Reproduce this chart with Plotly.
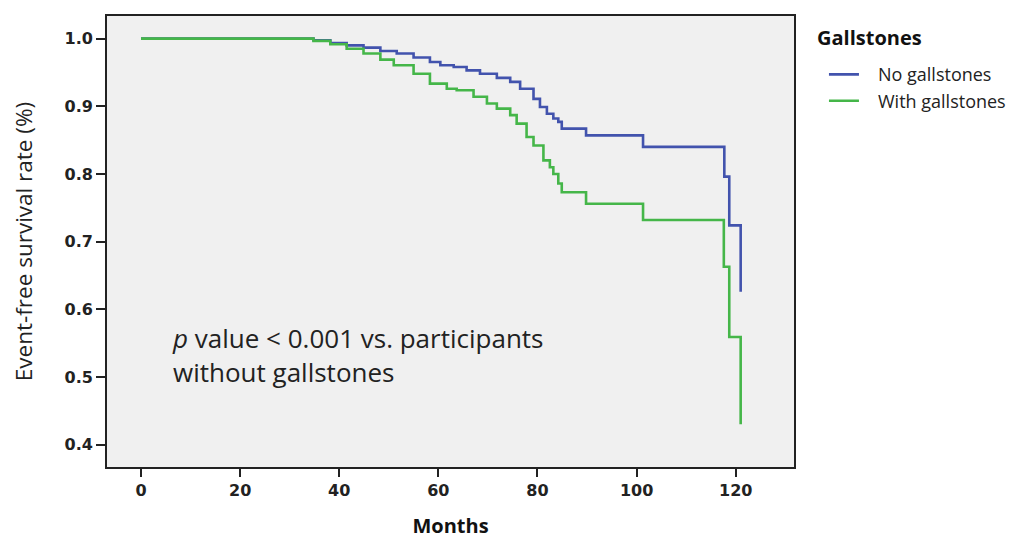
import plotly.graph_objects as go

# Kaplan-Meier step curves (months, survival)
no_gs_months = [0, 32.1, 34.8, 38.2, 41.5, 44.9, 48.3, 51.6, 55.0, 58.3, 60.4, 63.1, 65.7, 68.4,
                71.8, 74.5, 76.5, 79.2, 80.5, 81.9, 83.2, 84.2, 84.9,
                89.8, 101.3, 117.7, 118.7, 121.0]
no_gs_surv = [1.0, 1.0, 0.9975, 0.9935, 0.990, 0.9867, 0.9817, 0.978, 0.972, 0.9655, 0.9606, 0.958,
              0.953, 0.948, 0.942, 0.936, 0.926, 0.911, 0.899, 0.889, 0.882, 0.877, 0.867,
              0.857, 0.840, 0.796, 0.724, 0.626]

with_gs_months = [0, 32.1, 34.8, 38.2, 41.5, 44.9, 48.3, 51.0, 55.0, 58.3, 61.7, 63.7, 67.1, 69.8,
                  71.8, 74.5, 75.8, 77.8, 79.2, 81.2, 82.5, 83.2, 84.2, 84.9,
                  89.8, 101.3, 117.6, 118.7, 121.0]
with_gs_surv = [1.0, 1.0, 0.9966, 0.9916, 0.985, 0.978, 0.969, 0.9606, 0.948, 0.9335, 0.926, 0.9236,
                0.914, 0.904, 0.8966, 0.887, 0.8744, 0.8547, 0.842, 0.820, 0.810, 0.800, 0.786, 0.773,
                0.756, 0.732, 0.663, 0.559, 0.430]

x_ticks = [0, 20, 40, 60, 80, 100, 120]
y_ticks = [0.4, 0.5, 0.6, 0.7, 0.8, 0.9, 1.0]
y_tick_labels = ["0.4", "0.5", "0.6", "0.7", "0.8", "0.9", "1.0"]

legend_title = "Gallstones"
series_names = ["No gallstones", "With gallstones"]
colors = ["#4253ad", "#45b649"]

fig = go.Figure()
fig.add_trace(go.Scatter(x=no_gs_months, y=no_gs_surv, mode="lines",
                         name="\u00a0\u00a0\u00a0" + series_names[0],
                         line=dict(color=colors[0], width=2.6, shape="hv")))
fig.add_trace(go.Scatter(x=with_gs_months, y=with_gs_surv, mode="lines",
                         name="\u00a0\u00a0\u00a0" + series_names[1],
                         line=dict(color=colors[1], width=2.6, shape="hv")))

tick_font = dict(family="DejaVu Sans", size=16, color="#222222", weight="bold")

# the page body adds an 8px offset; margins are set so the plot area lands where the reference has it.
# The figure is a little wider than the window so the legend is never squeezed.
fig.update_layout(
    width=1050, height=539,
    margin=dict(l=99, r=264, t=8, b=80),
    paper_bgcolor="white",
    plot_bgcolor="#f0f0f0",
    font=dict(family="Open Sans", color="#222222"),
    showlegend=True,
    legend=dict(
        x=1.0436, xanchor="left", y=0.911, yanchor="top",
        font=dict(family="Open Sans", size=18, color="#222222"),
        bgcolor="rgba(0,0,0,0)",
        tracegroupgap=0,
    ),
    xaxis=dict(
        range=[-6.86, 131.76], automargin=False,
        tickmode="array", tickvals=x_ticks, ticktext=[str(v) for v in x_ticks],
        ticks="outside", ticklen=8, tickwidth=1.5, tickcolor="#222222",
        tickfont=tick_font,
        showgrid=False, zeroline=False,
        showline=True, linecolor="#222222", linewidth=1.8, mirror=True,
        title=dict(text="<b>Months</b>", font=dict(family="Open Sans", size=20, color="#111111"), standoff=20),
    ),
    yaxis=dict(
        range=[0.367, 1.0334], automargin=False,
        tickmode="array", tickvals=y_ticks, ticktext=y_tick_labels,
        ticks="outside", ticklen=9, tickwidth=1.5, tickcolor="#222222",
        tickfont=tick_font,
        showgrid=False, zeroline=False,
        showline=True, linecolor="#222222", linewidth=1.8, mirror=True,
        title=dict(text="Event-free survival rate (%)", font=dict(family="Open Sans", size=22.5, color="#222222"), standoff=42),
    ),
    annotations=[
        dict(text="<b>" + legend_title + "</b>", xref="paper", yref="paper", x=1.0306, y=0.953,
             xanchor="left", yanchor="middle", showarrow=False,
             font=dict(family="Open Sans", size=20, color="#111111")),
        dict(text="<i>p</i> value &lt; 0.001 vs. participants<br>without gallstones",
             xref="paper", yref="paper", x=0.092, y=0.248, xanchor="left", yanchor="middle",
             align="left", showarrow=False,
             font=dict(family="Open Sans", size=26, color="#222222")),
    ],
)

fig.write_html("out.html")
